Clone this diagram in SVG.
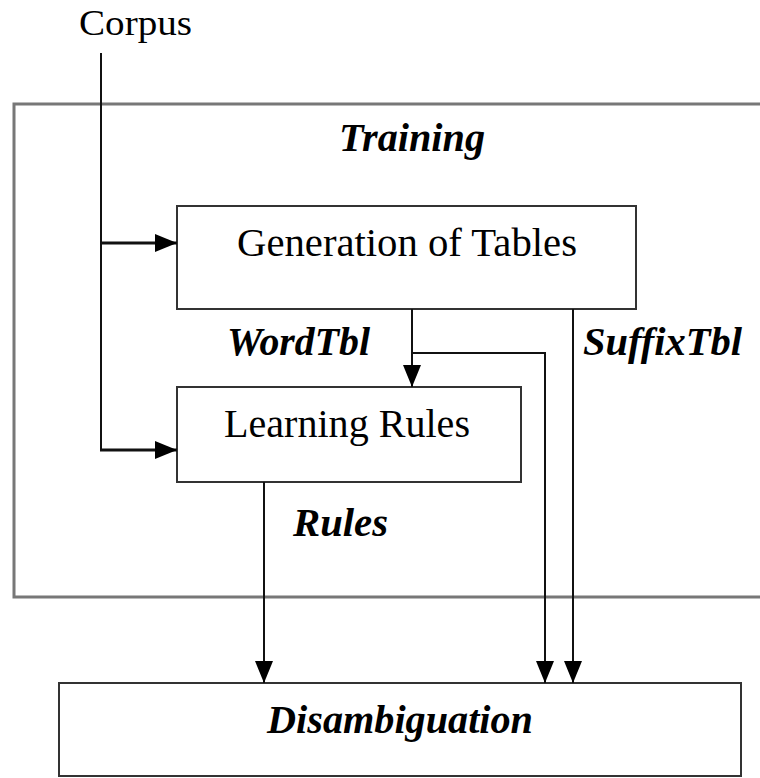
<svg xmlns="http://www.w3.org/2000/svg" width="760" height="778" viewBox="0 0 760 778">
<style>
.box{fill:#fff;stroke:#333;stroke-width:2}
.frame{fill:none;stroke:#777;stroke-width:3}
.conn{fill:none;stroke:#111;stroke-width:2}
.thick{stroke-width:3}
.reg{font-family:"Liberation Serif","Times New Roman",serif;font-size:39px;fill:#000}
.lbl{font-family:"Liberation Serif","Times New Roman",serif;font-size:39px;font-weight:bold;font-style:italic;fill:#000}
</style>
<defs>
<marker id="ah" markerUnits="userSpaceOnUse" markerWidth="24" markerHeight="20" refX="22" refY="9" orient="auto">
<path d="M0,0 L22,9 L0,18 Z" fill="#000"/>
</marker>
</defs>
<g id="training">
<path class="frame" d="M770,104 H14 V597 H770"/>
<text class="lbl" x="339" y="151" textLength="146" lengthAdjust="spacingAndGlyphs">Training</text>
</g>
<g id="corpus">
<text class="reg" x="79" y="35" style="font-size:35px" textLength="113" lengthAdjust="spacingAndGlyphs">Corpus</text>
</g>
<g id="generation">
<rect class="box" x="177" y="206" width="459" height="103"/>
<text class="reg" x="237" y="256" textLength="340" lengthAdjust="spacingAndGlyphs">Generation of Tables</text>
</g>
<g id="learning">
<rect class="box" x="177" y="387" width="344" height="95"/>
<text class="reg" x="224" y="437" textLength="246" lengthAdjust="spacingAndGlyphs">Learning Rules</text>
</g>
<g id="disambiguation">
<rect class="box" x="59" y="683" width="682" height="93"/>
<text class="lbl" x="267" y="733" textLength="266" lengthAdjust="spacingAndGlyphs">Disambiguation</text>
</g>
<g id="connectors">
<path class="conn" d="M101,53 V450"/>
<path class="conn thick" d="M100,450 H177" marker-end="url(#ah)"/>
<path class="conn thick" d="M101,243 H177" marker-end="url(#ah)"/>
<path class="conn" d="M412,309 V387" marker-end="url(#ah)"/>
<path class="conn" d="M412,353 H545 V683" marker-end="url(#ah)"/>
<path class="conn" d="M573,309 V683" marker-end="url(#ah)"/>
<path class="conn" d="M264,482 V683" marker-end="url(#ah)"/>
<text class="lbl" x="227" y="355" textLength="143" lengthAdjust="spacingAndGlyphs">WordTbl</text>
<text class="lbl" x="583" y="355" textLength="159" lengthAdjust="spacingAndGlyphs">SuffixTbl</text>
<text class="lbl" x="293" y="536" textLength="95" lengthAdjust="spacingAndGlyphs">Rules</text>
</g>
</svg>
